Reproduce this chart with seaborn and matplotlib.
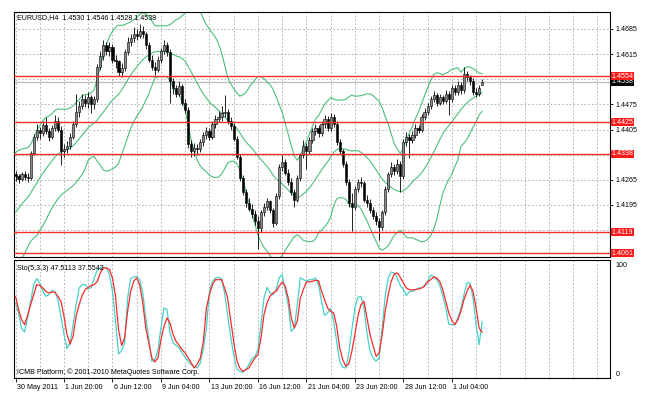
import numpy as np
import pandas as pd
import matplotlib
matplotlib.use("Agg")
import matplotlib.pyplot as plt
import matplotlib.transforms as mtransforms
import seaborn as sns

sns.set_theme(style="white")
plt.rcParams['font.family'] = ['Liberation Sans', 'DejaVu Sans']

# ---------------- data ----------------
symbol_header = "EURUSD,H4  1.4530 1.4546 1.4528 1.4538"
stoch_header = "Sto(5,3,3) 47.5113 37.5542"
copyright_text = "ICMB Platform, \u00a9 2001-2010 MetaQuotes Software Corp."

# closes of the bars just before the visible window (feed the 20-bar Bollinger bands)
hist_close = [1.4060, 1.4045, 1.4075, 1.4090, 1.4085, 1.4110, 1.4130, 1.4125, 1.4140, 1.4160,
              1.4170, 1.4185, 1.4205, 1.4230, 1.4260, 1.4275, 1.4285, 1.4300, 1.4290]

opens = [1.4280, 1.4275, 1.4268, 1.4280, 1.4272, 1.4270, 1.4340, 1.4385, 1.4405, 1.4395,
         1.4418, 1.4400, 1.4385, 1.4410, 1.4430, 1.4405, 1.4345, 1.4350, 1.4360, 1.4385,
         1.4420, 1.4455, 1.4470, 1.4490, 1.4480, 1.4495, 1.4475, 1.4490, 1.4580, 1.4610,
         1.4640, 1.4625, 1.4635, 1.4600, 1.4595, 1.4565, 1.4575, 1.4620, 1.4650, 1.4660,
         1.4670, 1.4665, 1.4680, 1.4670, 1.4640, 1.4600, 1.4580, 1.4570, 1.4600, 1.4625,
         1.4640, 1.4620, 1.4540, 1.4520, 1.4505, 1.4525, 1.4480, 1.4460, 1.4365, 1.4345,
         1.4355, 1.4350, 1.4370, 1.4390, 1.4400, 1.4385, 1.4420, 1.4435, 1.4440, 1.4450,
         1.4455, 1.4430, 1.4415, 1.4380, 1.4330, 1.4270, 1.4230, 1.4200, 1.4185, 1.4170,
         1.4150, 1.4130, 1.4175, 1.4190, 1.4205, 1.4180, 1.4145, 1.4220, 1.4300, 1.4315,
         1.4285, 1.4260, 1.4230, 1.4210, 1.4270, 1.4335, 1.4360, 1.4345, 1.4375, 1.4400,
         1.4410, 1.4395, 1.4420, 1.4435, 1.4410, 1.4440, 1.4420, 1.4370, 1.4345, 1.4310,
         1.4260, 1.4200, 1.4190, 1.4240, 1.4260, 1.4255, 1.4210, 1.4200, 1.4180, 1.4165,
         1.4150, 1.4135, 1.4175, 1.4240, 1.4280, 1.4300, 1.4290, 1.4310, 1.4275, 1.4370,
         1.4385, 1.4375, 1.4390, 1.4410, 1.4405, 1.4440, 1.4455, 1.4470, 1.4490, 1.4500,
         1.4480, 1.4495, 1.4485, 1.4505, 1.4490, 1.4520, 1.4510, 1.4530, 1.4515, 1.4560,
         1.4550, 1.4540, 1.4510, 1.4505, 1.4530]

highs = [1.4290, 1.4282, 1.4288, 1.4290, 1.4285, 1.4345, 1.4392, 1.4420, 1.4412, 1.4430,
         1.4440, 1.4408, 1.4418, 1.4445, 1.4440, 1.4415, 1.4365, 1.4372, 1.4395, 1.4428,
         1.4505, 1.4485, 1.4505, 1.4500, 1.4510, 1.4502, 1.4498, 1.4588, 1.4625, 1.4655,
         1.4650, 1.4648, 1.4642, 1.4612, 1.4600, 1.4590, 1.4628, 1.4662, 1.4672, 1.4690,
         1.4685, 1.4698, 1.4692, 1.4678, 1.4648, 1.4612, 1.4592, 1.4610, 1.4632, 1.4655,
         1.4648, 1.4628, 1.4548, 1.4530, 1.4540, 1.4532, 1.4490, 1.4468, 1.4375, 1.4368,
         1.4365, 1.4380, 1.4398, 1.4412, 1.4408, 1.4428, 1.4445, 1.4458, 1.4470, 1.4500,
         1.4462, 1.4440, 1.4422, 1.4388, 1.4338, 1.4278, 1.4240, 1.4215, 1.4198, 1.4180,
         1.4165, 1.4182, 1.4200, 1.4215, 1.4210, 1.4188, 1.4228, 1.4308, 1.4335, 1.4322,
         1.4295, 1.4270, 1.4240, 1.4278, 1.4340, 1.4375, 1.4368, 1.4385, 1.4410, 1.4420,
         1.4418, 1.4428, 1.4445, 1.4442, 1.4450, 1.4448, 1.4428, 1.4380, 1.4352, 1.4318,
         1.4268, 1.4228, 1.4248, 1.4268, 1.4272, 1.4262, 1.4222, 1.4212, 1.4190, 1.4175,
         1.4160, 1.4182, 1.4248, 1.4288, 1.4315, 1.4308, 1.4322, 1.4318, 1.4378, 1.4398,
         1.4392, 1.4400, 1.4420, 1.4418, 1.4448, 1.4465, 1.4478, 1.4498, 1.4512, 1.4508,
         1.4505, 1.4502, 1.4515, 1.4512, 1.4528, 1.4530, 1.4540, 1.4538, 1.4578, 1.4568,
         1.4558, 1.4548, 1.4520, 1.4528, 1.4546]

lows = [1.4262, 1.4255, 1.4262, 1.4265, 1.4258, 1.4265, 1.4335, 1.4375, 1.4380, 1.4388,
        1.4392, 1.4372, 1.4378, 1.4402, 1.4398, 1.4305, 1.4330, 1.4340, 1.4350, 1.4378,
        1.4412, 1.4440, 1.4462, 1.4468, 1.4465, 1.4450, 1.4462, 1.4482, 1.4570, 1.4600,
        1.4612, 1.4610, 1.4590, 1.4575, 1.4555, 1.4552, 1.4568, 1.4612, 1.4638, 1.4650,
        1.4655, 1.4660, 1.4660, 1.4630, 1.4592, 1.4570, 1.4558, 1.4565, 1.4590, 1.4615,
        1.4610, 1.4478, 1.4505, 1.4495, 1.4498, 1.4472, 1.4450, 1.4355, 1.4330, 1.4332,
        1.4335, 1.4342, 1.4360, 1.4380, 1.4375, 1.4378, 1.4410, 1.4425, 1.4430, 1.4440,
        1.4420, 1.4405, 1.4372, 1.4322, 1.4262, 1.4222, 1.4190, 1.4178, 1.4160, 1.4138,
        1.4072, 1.4120, 1.4165, 1.4180, 1.4172, 1.4135, 1.4138, 1.4212, 1.4290, 1.4278,
        1.4250, 1.4222, 1.4190, 1.4202, 1.4262, 1.4325, 1.4295, 1.4338, 1.4368, 1.4390,
        1.4385, 1.4388, 1.4410, 1.4400, 1.4402, 1.4412, 1.4362, 1.4338, 1.4302, 1.4252,
        1.4190, 1.4122, 1.4182, 1.4230, 1.4245, 1.4202, 1.4190, 1.4172, 1.4155, 1.4140,
        1.4098, 1.4125, 1.4168, 1.4232, 1.4272, 1.4278, 1.4282, 1.4232, 1.4268, 1.4360,
        1.4325, 1.4368, 1.4382, 1.4395, 1.4398, 1.4432, 1.4445, 1.4462, 1.4482, 1.4470,
        1.4472, 1.4475, 1.4478, 1.4445, 1.4482, 1.4500, 1.4502, 1.4505, 1.4508, 1.4540,
        1.4530, 1.4502, 1.4495, 1.4498, 1.4528]

closes = [1.4275, 1.4268, 1.4280, 1.4272, 1.4270, 1.4340, 1.4385, 1.4405, 1.4395, 1.4418,
          1.4400, 1.4385, 1.4410, 1.4430, 1.4405, 1.4345, 1.4350, 1.4360, 1.4385, 1.4420,
          1.4455, 1.4470, 1.4490, 1.4480, 1.4495, 1.4475, 1.4490, 1.4580, 1.4610, 1.4640,
          1.4625, 1.4635, 1.4600, 1.4595, 1.4565, 1.4575, 1.4620, 1.4650, 1.4660, 1.4670,
          1.4665, 1.4680, 1.4670, 1.4640, 1.4600, 1.4580, 1.4570, 1.4600, 1.4625, 1.4640,
          1.4620, 1.4540, 1.4520, 1.4505, 1.4525, 1.4480, 1.4460, 1.4365, 1.4345, 1.4355,
          1.4350, 1.4370, 1.4390, 1.4400, 1.4385, 1.4420, 1.4435, 1.4440, 1.4450, 1.4455,
          1.4430, 1.4415, 1.4380, 1.4330, 1.4270, 1.4230, 1.4200, 1.4185, 1.4170, 1.4150,
          1.4130, 1.4175, 1.4190, 1.4205, 1.4180, 1.4145, 1.4220, 1.4300, 1.4315, 1.4285,
          1.4260, 1.4230, 1.4210, 1.4270, 1.4335, 1.4360, 1.4345, 1.4375, 1.4400, 1.4410,
          1.4395, 1.4420, 1.4435, 1.4410, 1.4440, 1.4420, 1.4370, 1.4345, 1.4310, 1.4260,
          1.4200, 1.4190, 1.4240, 1.4260, 1.4255, 1.4210, 1.4200, 1.4180, 1.4165, 1.4150,
          1.4135, 1.4175, 1.4240, 1.4280, 1.4300, 1.4290, 1.4310, 1.4275, 1.4370, 1.4385,
          1.4375, 1.4390, 1.4410, 1.4405, 1.4440, 1.4455, 1.4470, 1.4490, 1.4500, 1.4480,
          1.4495, 1.4485, 1.4505, 1.4490, 1.4520, 1.4510, 1.4530, 1.4515, 1.4560, 1.4550,
          1.4540, 1.4510, 1.4505, 1.4520, 1.4538]

stoch_main = [64.8, 55.6, 41.1, 38.0, 51.0, 66.4, 81.8, 87.4, 83.4, 75.6,
              71.0, 72.5, 76.3, 75.6, 67.9, 52.5, 35.5, 22.6, 27.8, 44.8,
              63.3, 78.7, 81.8, 81.8, 77.8, 79.3, 88.0, 95.7, 97.2, 97.8,
              97.2, 91.1, 75.6, 47.9, 17.6, 20.7, 27.8, 69.5, 87.4, 88.9,
              89.5, 86.4, 74.1, 51.0, 30.9, 10.8, 12.4, 21.6, 41.7, 60.2,
              58.7, 37.1, 27.8, 25.6, 23.2, 18.5, 14.5, 10.8, 7.7, 5.6,
              4.7, 9.3, 23.2, 41.7, 75.6, 84.9, 88.0, 88.6, 87.4, 74.1,
              54.0, 34.0, 17.0, 4.0, 1.6, 0.7, 3.1, 7.7, 13.0, 15.2,
              21.6, 44.8, 69.5, 79.3, 74.1, 72.5, 77.2, 88.0, 91.1, 77.2,
              63.3, 38.6, 41.7, 63.3, 88.0, 86.4, 84.9, 86.4, 86.4, 88.0,
              81.8, 66.4, 53.4, 55.6, 59.6, 47.9, 29.3, 10.8, 5.3, 4.7,
              18.5, 40.1, 60.2, 70.1, 71.0, 60.2, 37.1, 20.1, 13.9, 10.8,
              13.9, 41.7, 71.0, 88.0, 93.5, 92.6, 88.0, 80.9, 77.2, 71.6,
              75.6, 75.6, 77.2, 78.7, 78.7, 81.2, 84.9, 90.5, 89.5, 86.4,
              81.2, 71.9, 60.2, 45.4, 44.8, 44.8, 51.0, 60.2, 72.5, 83.4,
              83.4, 69.5, 44.8, 26.3, 47.5]

stoch_signal = [71.0, 58.7, 49.4, 44.8, 53.4, 63.3, 72.5, 81.8, 81.2, 78.7,
                75.6, 74.1, 75.0, 74.7, 71.0, 66.4, 52.5, 35.5, 26.9, 34.0,
                52.5, 63.3, 71.9, 77.2, 79.3, 81.2, 81.8, 84.9, 92.6, 97.2,
                97.2, 95.7, 88.0, 71.0, 40.1, 25.6, 32.4, 57.1, 75.6, 84.9,
                88.0, 81.2, 64.8, 41.7, 27.8, 13.9, 10.2, 13.9, 30.9, 43.2,
                51.0, 46.3, 35.5, 29.3, 25.6, 21.6, 18.5, 13.9, 9.3, 4.7,
                8.4, 13.9, 29.3, 60.2, 72.5, 81.8, 86.4, 86.4, 86.4, 78.7,
                69.5, 49.4, 29.3, 12.4, 4.7, 1.6, 3.1, 4.7, 9.3, 13.9,
                17.0, 32.4, 54.0, 64.8, 71.0, 74.1, 75.6, 80.3, 84.3, 80.3,
                69.5, 51.0, 41.7, 47.9, 69.5, 77.2, 84.3, 84.3, 84.9, 85.8,
                85.5, 75.6, 67.9, 60.2, 57.1, 55.6, 43.2, 23.2, 12.4, 6.2,
                8.4, 20.1, 35.5, 52.5, 63.3, 66.4, 51.0, 35.5, 25.6, 15.5,
                18.5, 35.5, 57.1, 72.5, 84.9, 91.7, 92.6, 88.6, 83.4, 78.7,
                77.2, 76.9, 77.2, 77.8, 78.7, 80.3, 84.3, 86.4, 88.9, 88.0,
                84.9, 77.2, 66.4, 55.6, 48.5, 44.8, 49.4, 57.1, 67.9, 75.6,
                81.2, 75.6, 60.2, 41.7, 37.6]

level_prices = [1.4554, 1.4425, 1.4338, 1.4119, 1.4061]
level_labels = ["1.4554", "1.4425", "1.4338", "1.4119", "1.4061"]
bid_price = 1.4538
bid_label = "1.4538"

price_grid = [1.4685, 1.4615, 1.4545, 1.4475, 1.4405, 1.4335, 1.4265, 1.4195, 1.4125]
price_grid_labels = ["1.4685", "1.4615", "", "1.4475", "1.4405", "", "1.4265", "1.4195", ""]

date_labels = ["30 May 2011", "1 Jun 20:00", "6 Jun 12:00", "9 Jun 04:00", "13 Jun 20:00",
               "16 Jun 12:00", "21 Jun 04:00", "23 Jun 20:00", "28 Jun 12:00", "1 Jul 04:00"]

# ---------------- derived ----------------
n = len(closes)
idx = np.arange(n)
o = np.array(opens); h = np.array(highs); l = np.array(lows); c = np.array(closes)
full = pd.Series(hist_close + closes)
k = len(hist_close)
mid = full.rolling(20).mean().to_numpy()[k:]
sd = full.rolling(20).std(ddof=0).to_numpy()[k:]
upper = mid + 2 * sd
lower = mid - 2 * sd

# ---------------- figure ----------------
W, H = 646, 395
fig = plt.figure(figsize=(W / 100, H / 100), dpi=100)
fig.patch.set_facecolor("white")

def ax_rect(x0, y0, x1, y1):
    return [x0 / W, 1 - y1 / H, (x1 - x0) / W, (y1 - y0) / H]

ax = fig.add_axes(ax_rect(14, 12, 610, 257))
ax2 = fig.add_axes(ax_rect(14, 260, 610, 378))

bar_px = 3.03
xmin = -0.5
xmax = xmin + (610 - 14) / bar_px
FS = 5.1
grid_kw = dict(color="#a8a8a8", lw=0.6, ls=(0, (2, 2.5)), zorder=0.5)

for a in (ax, ax2):
    a.set_facecolor("white")
    a.set_xlim(xmin, xmax)
    for s in a.spines.values():
        s.set_color("black")
        s.set_linewidth(0.8)
    for gx in range(0, int(xmax) + 1, 8):
        a.axvline(gx, **grid_kw)

# ---- main panel ----
ax.set_ylim(1.40502, 1.47323)
for gy in price_grid:
    ax.axhline(gy, **grid_kw)

sns.lineplot(x=idx, y=upper, ax=ax, color="#4cc07a", lw=0.8, zorder=2)
sns.lineplot(x=idx, y=mid, ax=ax, color="#4cc07a", lw=0.8, zorder=2)
sns.lineplot(x=idx, y=lower, ax=ax, color="#4cc07a", lw=0.8, zorder=2)

bull = c >= o
ax.vlines(idx, l, h, color="black", lw=0.6, zorder=3)
body_bottom = np.minimum(o, c)
body_height = np.maximum(np.abs(c - o), 0.00008)
ax.bar(idx[bull], body_height[bull], bottom=body_bottom[bull], width=0.72,
       color="#8a8a8a", edgecolor="black", linewidth=0.4, zorder=4)
ax.bar(idx[~bull], body_height[~bull], bottom=body_bottom[~bull], width=0.72,
       color="black", edgecolor="black", linewidth=0.4, zorder=4)

ax.axhline(bid_price, color="#c0c0c0", lw=1.0, zorder=1.5)
for lp in level_prices:
    ax.axhline(lp, color="#ff2a2a", lw=1.0, zorder=5)

ax.yaxis.tick_right()
ax.set_yticks(price_grid)
ax.set_yticklabels(price_grid_labels)
ax.tick_params(axis="y", which="both", right=True, length=2.5, width=0.6, pad=1.5,
               labelsize=FS, colors="black", direction="out")
ax.set_xticks([])
ax.set_xlabel(""); ax.set_ylabel("")

trans_lab = mtransforms.blended_transform_factory(ax.transAxes, ax.transData)
box_x = 1.0 + 1.5 / 596
ax.text(box_x, bid_price, bid_label, transform=trans_lab, fontsize=FS, color="white",
        va="center", ha="left", zorder=10, clip_on=False,
        bbox=dict(boxstyle="square,pad=0.08", fc="black", ec="black", lw=0))
for lp, lt in zip(level_prices, level_labels):
    ax.text(box_x, lp, lt, transform=trans_lab, fontsize=FS, color="white",
            va="center", ha="left", zorder=11, clip_on=False,
            bbox=dict(boxstyle="square,pad=0.08", fc="#ff1a1a", ec="#ff1a1a", lw=0))

ax.text(3 / 596, 1 - 6 / 245, symbol_header, transform=ax.transAxes, fontsize=FS,
        va="center", ha="left", color="black", zorder=12)

# ---- stochastic panel ----
ax2.set_ylim(-4.6, 104.6)
sns.lineplot(x=idx, y=stoch_main, ax=ax2, color="#46d2c6", lw=0.9, zorder=3)
sns.lineplot(x=idx, y=stoch_signal, ax=ax2, color="#ff2a2a", lw=0.9, zorder=4)
ax2.yaxis.tick_right()
ax2.set_yticks([0, 100])
ax2.set_yticklabels(["0", "100"])
ax2.tick_params(axis="y", right=True, length=0, pad=4, labelsize=FS, colors="black")
ax2.set_xlabel(""); ax2.set_ylabel("")

tick_pos = list(range(0, 16 * len(date_labels), 16))
ax2.set_xticks(tick_pos)
ax2.set_xticklabels(date_labels, ha="left")
ax2.tick_params(axis="x", bottom=True, length=3, width=0.6, pad=1.5, labelsize=FS,
                colors="black", direction="out")
offset = mtransforms.ScaledTranslation(1.5 / 100, 0, fig.dpi_scale_trans)
for lbl in ax2.get_xticklabels():
    lbl.set_transform(lbl.get_transform() + offset)

ax2.text(3 / 596, 1 - 8 / 118, stoch_header, transform=ax2.transAxes, fontsize=FS,
         va="center", ha="left", color="black", zorder=12)
ax2.text(3 / 596, 6 / 118, copyright_text, transform=ax2.transAxes, fontsize=FS,
         va="center", ha="left", color="black", zorder=12)

fig.savefig("out.png", dpi=100, facecolor="white")
